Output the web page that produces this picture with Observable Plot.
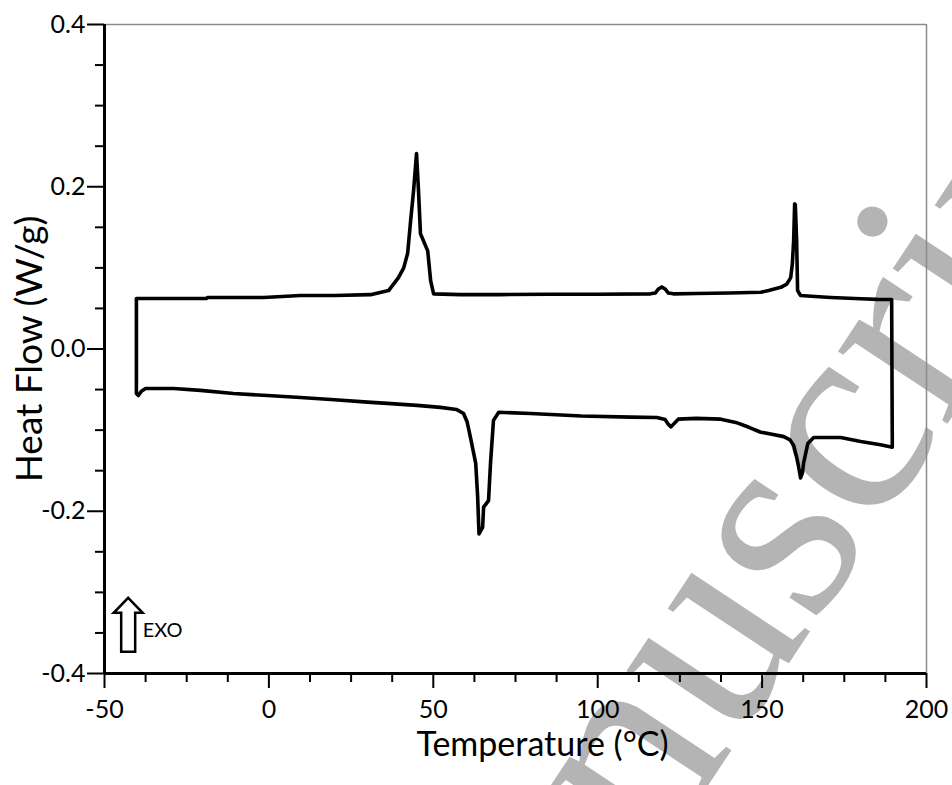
<!DOCTYPE html>
<html>
<head>
<meta charset="utf-8">
<script src="https://cdn.jsdelivr.net/npm/d3@7"></script>
<script src="https://cdn.jsdelivr.net/npm/@observablehq/plot@0.6"></script>
<style>
  html, body { margin: 0; padding: 0; background: #fff; }
  #chart { width: 952px; height: 785px; }
</style>
</head>
<body>
<div id="chart"></div>
<script>
// Heating scan (lower, endothermic dips) — temperature (°C) and heat flow (W/g)
const heatT  = [-40.3, -40.3, -39.7, -38.8, -37.5, -29.0, -20.8, -10.8, -0.4, 9.6, 20, 30, 36, 45, 52.2, 57, 59.2, 60.3, 61.3, 62.9, 63.5, 63.9, 65.0, 65.3, 66.8, 67.4, 68.3, 69.9, 79.6, 95, 110, 118, 120.5, 121.5, 122.3, 123.2, 124.5, 130, 137.4, 142, 146, 149.6, 153, 156.6, 158.5, 159.6, 160.6, 161.1, 161.7, 162.3, 162.6, 163.9, 165.7, 173.9, 180, 186, 189.6];
const heatHF = [0.0623, -0.0549, -0.0573, -0.052, -0.0487, -0.0487, -0.051, -0.0549, -0.0573, -0.0598, -0.0625, -0.0655, -0.067, -0.0695, -0.072, -0.0745, -0.0795, -0.09, -0.109, -0.141, -0.183, -0.228, -0.220, -0.195, -0.187, -0.141, -0.088, -0.078, -0.0795, -0.0825, -0.084, -0.0845, -0.087, -0.093, -0.096, -0.092, -0.0865, -0.0855, -0.0865, -0.0905, -0.0965, -0.1026, -0.105, -0.108, -0.112, -0.119, -0.135, -0.145, -0.159, -0.152, -0.141, -0.1165, -0.109, -0.109, -0.114, -0.118, -0.121];

// Cooling scan (upper, exothermic peaks)
const coolT  = [189.4, 185, 180, 170.9, 165, 161.7, 160.8, 160.5, 160.1, 159.9, 159.6, 159.2, 158.7, 157.5, 155.7, 152, 149.6, 140, 130, 123, 121.5, 120.5, 119.5, 118.5, 117.5, 116, 100, 85, 70, 58.3, 50.1, 49.2, 48.3, 46.1, 45.5, 44.9, 44.0, 43.1, 42.2, 41, 39.4, 36.4, 30.9, 20, 9.6, -1.6, -18.7, -19, -40.3];
const coolHF = [0.061, 0.0612, 0.062, 0.0635, 0.065, 0.066, 0.072, 0.134, 0.178, 0.179, 0.134, 0.105, 0.088, 0.08, 0.076, 0.072, 0.070, 0.069, 0.0685, 0.068, 0.069, 0.074, 0.0765, 0.074, 0.069, 0.068, 0.0675, 0.0675, 0.067, 0.067, 0.068, 0.084, 0.121, 0.142, 0.195, 0.241, 0.195, 0.158, 0.118, 0.1, 0.088, 0.072, 0.067, 0.066, 0.066, 0.0635, 0.0635, 0.0623, 0.0623];

// Axis ticks and labels
const xMajor = [-50, 0, 50, 100, 150, 200];
const xMinor = [-37.5, -25, -12.5, 12.5, 25, 37.5, 62.5, 75, 87.5, 112.5, 125, 137.5, 162.5, 175, 187.5];
const yMajor = [-0.4, -0.2, 0, 0.2, 0.4];
const yMinor = [-0.35, -0.3, -0.25, -0.15, -0.1, -0.05, 0.05, 0.1, 0.15, 0.25, 0.3, 0.35];
const xTitle = "Temperature (°C)";
const yTitle = "Heat Flow (W/g)";
const exoLabel = "EXO";
const exoNote = [{x: -42.8, y: -0.34}];
const exoText = [{x: -38.4, y: -0.347}];

const trace = [
  ...heatT.map((t, i) => ({t, hf: heatHF[i]})),
  ...coolT.map((t, i) => ({t, hf: coolHF[i]}))
];

const exoArrow = {
  draw(ctx) {
    ctx.moveTo(0, -27);
    ctx.lineTo(14.5, -12);
    ctx.lineTo(7, -12);
    ctx.lineTo(7, 27);
    ctx.lineTo(-7, 27);
    ctx.lineTo(-7, -12);
    ctx.lineTo(-14.5, -12);
    ctx.closePath();
  }
};

const font = "Lato, 'Open Sans', sans-serif";

const chart = Plot.plot({
  width: 952,
  height: 785,
  marginLeft: 104,
  marginRight: 26,
  marginTop: 24,
  marginBottom: 112,
  style: {fontFamily: font, color: "black", background: "white", overflow: "visible"},
  x: {domain: [-50, 200]},
  y: {domain: [-0.4, 0.4]},
  marks: [
    Plot.ruleY([0.4], {stroke: "#8a8a8a", strokeWidth: 1.5}),
    Plot.ruleX([200], {stroke: "#8a8a8a", strokeWidth: 1.5}),
    Plot.line(trace, {x: "t", y: "hf", stroke: "black", strokeWidth: 3.6, strokeLinejoin: "round", strokeLinecap: "round", curve: "linear"}),
    Plot.axisX({ticks: xMinor, tickSize: 9, tickFormat: () => "", label: null, strokeWidth: 2}),
    Plot.axisX({ticks: xMajor, tickSize: 15, tickPadding: 12, tickFormat: d => String(d), fontSize: 25, label: null, strokeWidth: 2}),
    Plot.axisY({ticks: yMinor, tickSize: 9, tickFormat: () => "", label: null, strokeWidth: 2}),
    Plot.axisY({ticks: yMajor, tickSize: 17, tickPadding: 2, tickFormat: d => d.toFixed(1), fontSize: 25, label: null, strokeWidth: 2}),
    Plot.ruleX([-50], {stroke: "black", strokeWidth: 3}),
    Plot.ruleY([-0.4], {stroke: "black", strokeWidth: 3}),
    Plot.text([xTitle], {frameAnchor: "bottom", dx: 27, dy: 72, text: d => d, fontSize: 34, textAnchor: "middle", lineAnchor: "middle", fill: "black"}),
    Plot.text([yTitle], {frameAnchor: "left", dx: -74, text: d => d, fontSize: 37, rotate: -90, textAnchor: "middle", lineAnchor: "middle", fill: "black"}),
    Plot.dot(exoNote, {x: "x", y: "y", symbol: exoArrow, fill: "white", stroke: "black", strokeWidth: 2.5}),
    Plot.text(exoText, {x: "x", y: "y", text: () => exoLabel, fontSize: 20, textAnchor: "start", lineAnchor: "middle", fill: "black"})
  ]
});

// Journal watermark behind the chart
const svg = d3.select(chart);
svg.insert("text", ":first-child")
  .attr("transform", "translate(444.5,1183.7) rotate(-56.5)")
  .attr("text-anchor", "start")
  .attr("font-family", "'Liberation Serif', 'DejaVu Serif', serif")
  .attr("font-size", 286)
  .attr("fill", "#b4b4b4")
  .text("Manuscript");

document.getElementById("chart").appendChild(chart);
</script>
</body>
</html>
